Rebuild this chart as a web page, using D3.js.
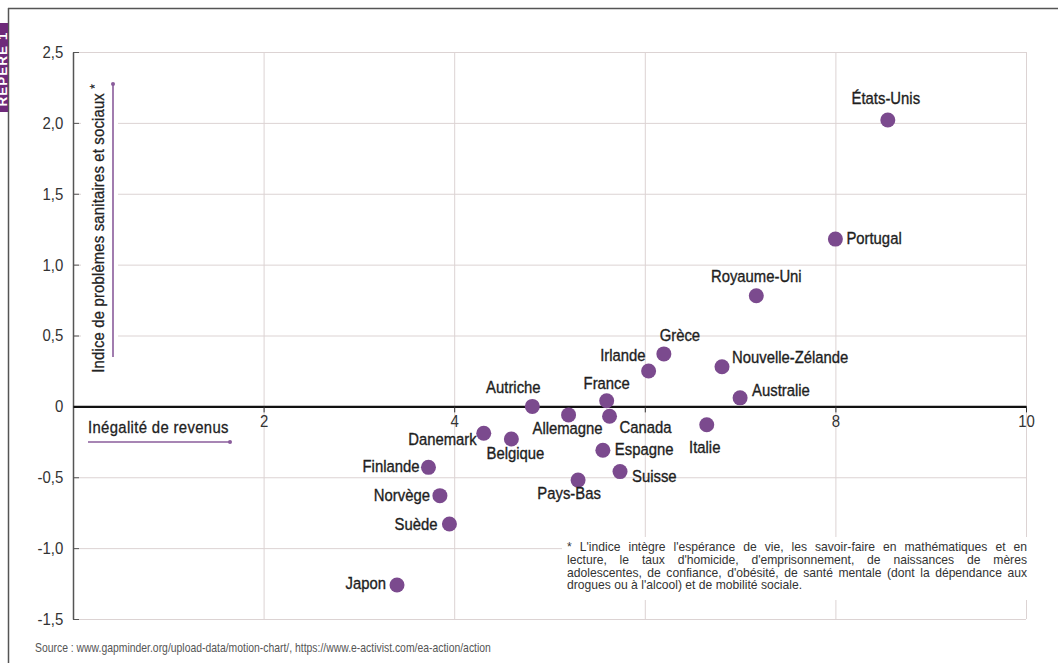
<!DOCTYPE html>
<html lang="fr">
<head>
<meta charset="utf-8">
<script src="https://cdn.jsdelivr.net/npm/d3@7"></script>
<style>
  html, body { margin: 0; padding: 0; background: #fff; }
  svg { display: block; }
  text { font-family: "Liberation Sans", Arial, sans-serif; }
</style>
</head>
<body>
<svg id="chart" width="1058" height="663"></svg>
<script>
// Pays, inégalité de revenus et indice de problèmes sanitaires et sociaux
const countries = ["États-Unis", "Portugal", "Royaume-Uni", "Grèce", "Irlande", "Nouvelle-Zélande",
  "Australie", "France", "Autriche", "Canada", "Allemagne", "Italie", "Danemark", "Belgique",
  "Espagne", "Suisse", "Pays-Bas", "Finlande", "Norvège", "Suède", "Japon"];
const incomeInequality = [8.55, 8.0, 7.17, 6.20, 6.04, 6.81,
  7.0, 5.60, 4.82, 5.63, 5.20, 6.65, 4.31, 4.60,
  5.56, 5.74, 5.30, 3.73, 3.85, 3.95, 3.40];
const healthSocialIndex = [2.02, 1.18, 0.78, 0.37, 0.25, 0.28,
  0.06, 0.04, 0.0, -0.07, -0.06, -0.13, -0.19, -0.23,
  -0.31, -0.46, -0.52, -0.43, -0.63, -0.83, -1.26];

const xTickValues = [2, 4, 6, 8, 10];
const yTickValues = [-1.5, -1.0, -0.5, 0, 0.5, 1.0, 1.5, 2.0, 2.5];

const xTitle = "Inégalité de revenus";
const yTitle = "Indice de problèmes sanitaires et sociaux";
const footnoteLines = [
  "* L'indice intègre l'espérance de vie, les savoir-faire en mathématiques et en",
  "lecture, le taux d'homicide, d'emprisonnement, de naissances de mères",
  "adolescentes, de confiance, d'obésité, de santé mentale (dont la dépendance aux",
  "drogues ou à l'alcool) et de mobilité sociale."
];
const sourceText = "Source : www.gapminder.org/upload-data/motion-chart/, https://www.e-activist.com/ea-action/action";
const tabText = "REPÈRE 1";

// Label placement around each dot: [text-anchor, dx, dy]
const labelPlacement = {
  "États-Unis": ["middle", -2, -16],
  "Portugal": ["start", 11, 5],
  "Royaume-Uni": ["middle", 0, -14],
  "Grèce": ["middle", 16, -13],
  "Irlande": ["end", -3, -10],
  "Nouvelle-Zélande": ["start", 10, -4],
  "Australie": ["start", 12, -2],
  "France": ["middle", 0, -12],
  "Autriche": ["middle", -19, -13],
  "Canada": ["start", 10, 17],
  "Allemagne": ["middle", -1, 19],
  "Italie": ["middle", -2, 28],
  "Danemark": ["end", -7, 12],
  "Belgique": ["middle", 4, 20],
  "Espagne": ["start", 12, 5],
  "Suisse": ["start", 12, 10],
  "Pays-Bas": ["middle", -9, 19],
  "Finlande": ["end", -9, 5],
  "Norvège": ["end", -10, 5],
  "Suède": ["end", -12, 6],
  "Japon": ["end", -11, 4]
};

const purple = "#7b4a8e";
const arrowPurple = "#8a5c9b";
const gridColor = "#dcd3d3";
const NARROW = 0.9;   // horizontal squeeze giving a condensed face

const svg = d3.select("#chart");

const x = d3.scaleLinear().domain([0, 10]).range([73, 1026]);
const y = d3.scaleLinear().domain([-1.5, 2.5]).range([619, 52]);

const frLocale = d3.formatLocale({ decimal: ",", thousands: " ", grouping: [3], currency: ["", " €"], minus: "-" });
const fmt1 = frLocale.format(".1f");
const yFormat = v => v === 0 ? "0" : fmt1(v);

// Outer frame and side tab (the tab runs off the page edge)
svg.append("line").attr("x1", 8).attr("x2", 1058).attr("y1", 8.5).attr("y2", 8.5)
  .attr("stroke", "#555").attr("stroke-width", 1.5);
svg.append("line").attr("x1", 8.5).attr("x2", 8.5).attr("y1", 8).attr("y2", 663)
  .attr("stroke", "#555").attr("stroke-width", 1.5);
svg.append("clipPath").attr("id", "tabClip")
  .append("rect").attr("x", 0).attr("y", 23).attr("width", 8).attr("height", 89);
const tab = svg.append("g").attr("clip-path", "url(#tabClip)");
tab.append("rect").attr("x", 0).attr("y", 23).attr("width", 8).attr("height", 89).attr("fill", "#6e2a7a");
tab.append("text")
  .attr("transform", "translate(7,69) rotate(-90)")
  .attr("text-anchor", "middle")
  .attr("fill", "#fff").attr("font-weight", "bold").attr("font-size", 13.5)
  .attr("letter-spacing", 1)
  .text(tabText);

// Gridlines
svg.append("g")
  .attr("transform", `translate(0,${y(-1.5)})`)
  .call(d3.axisBottom(x).tickValues(xTickValues).tickSize(-(y(-1.5) - y(2.5))).tickFormat(""))
  .call(g => g.select(".domain").remove())
  .call(g => g.selectAll("line").attr("stroke", gridColor));
svg.append("g")
  .attr("transform", `translate(${x(0)},0)`)
  .call(d3.axisLeft(y).tickValues(yTickValues).tickSize(-(x(10) - x(0))).tickFormat(""))
  .call(g => g.select(".domain").remove())
  .call(g => g.selectAll("line").attr("stroke", gridColor));

// Y axis with inward ticks
svg.append("g")
  .attr("transform", `translate(${x(0)},0)`)
  .call(d3.axisLeft(y).tickValues(yTickValues).tickSizeInner(-6).tickSizeOuter(0).tickPadding(11).tickFormat(yFormat))
  .call(g => g.select(".domain").attr("stroke", "#555").attr("stroke-width", 1.5))
  .call(g => g.selectAll(".tick line").attr("stroke", "#555"))
  .call(g => g.selectAll("text").attr("font-size", 17).attr("fill", "#333")
    .attr("transform", "scale(0.88,1)"));

// Y title with its arrow, on a white band over the gridlines
svg.append("rect").attr("x", 81).attr("y", 78).attr("width", 37).attr("height", 290).attr("fill", "#fff");
const yT = svg.append("text")
  .attr("transform", `translate(104,84) rotate(-90) scale(${NARROW},1)`)
  .attr("text-anchor", "end")
  .attr("font-size", 16.5).attr("fill", "#222").attr("letter-spacing", 0.2)
  .attr("stroke", "#222").attr("stroke-width", 0.3);
yT.append("tspan").text(yTitle + " ");
yT.append("tspan").attr("dy", -5).attr("font-size", 13).text("*");
svg.append("line").attr("x1", 113).attr("x2", 113).attr("y1", 357).attr("y2", 84)
  .attr("stroke", arrowPurple).attr("stroke-width", 1.6);
svg.append("circle").attr("cx", 113).attr("cy", 84).attr("r", 2).attr("fill", arrowPurple);

// X title with its arrow
svg.append("text").attr("transform", `translate(88,433) scale(${NARROW},1)`)
  .attr("font-size", 16.5).attr("fill", "#222").attr("letter-spacing", 0.4)
  .attr("stroke", "#222").attr("stroke-width", 0.3)
  .text(xTitle);
svg.append("line").attr("x1", 88).attr("x2", 230).attr("y1", 442).attr("y2", 442)
  .attr("stroke", arrowPurple).attr("stroke-width", 1.6);
svg.append("circle").attr("cx", 230).attr("cy", 442).attr("r", 2).attr("fill", arrowPurple);

// X axis on the zero line (the "6" label sits under the Canada label)
svg.append("g")
  .attr("transform", `translate(0,${y(0)})`)
  .call(d3.axisBottom(x).tickValues(xTickValues).tickSizeInner(6).tickSizeOuter(0).tickPadding(3)
    .tickFormat(d => d === 6 ? "" : d))
  .call(g => g.select(".domain").attr("stroke", "#111").attr("stroke-width", 2.2))
  .call(g => g.selectAll(".tick line").attr("stroke", "#333"))
  .call(g => g.selectAll("text").attr("font-size", 17).attr("fill", "#333")
    .attr("transform", "scale(0.88,1)"));

// Points and labels
const rows = countries.map((c, i) => ({ country: c, xv: incomeInequality[i], yv: healthSocialIndex[i] }));
svg.append("g").selectAll("circle").data(rows).join("circle")
  .attr("cx", d => x(d.xv)).attr("cy", d => y(d.yv)).attr("r", 7.5)
  .attr("fill", purple);
svg.append("g").selectAll("text").data(rows).join("text")
  .attr("transform", d => {
    const p = labelPlacement[d.country];
    return `translate(${x(d.xv) + p[1]},${y(d.yv) + p[2]}) scale(${NARROW},1)`;
  })
  .attr("text-anchor", d => labelPlacement[d.country][0])
  .attr("font-size", 16.5).attr("fill", "#1e1e1e")
  .attr("stroke", "#1e1e1e").attr("stroke-width", 0.35)
  .text(d => d.country);

// Footnote box, justified line by line
svg.append("rect").attr("x", 562).attr("y", 537).attr("width", 470).attr("height", 63).attr("fill", "#fff");
const FN_SQUEEZE = 0.92;
const fnLeft = 567, fnRight = 1027, fnTop = 551, fnLead = 12.8;
const fnWidth = (fnRight - fnLeft) / FN_SQUEEZE;
const fn = svg.append("g")
  .attr("transform", `translate(${fnLeft},0) scale(${FN_SQUEEZE},1)`)
  .attr("font-size", 13.2).attr("fill", "#333");
const probe = fn.append("text");
const measure = s => { probe.text(s); return probe.node().getComputedTextLength(); };
const spaceW = measure("a a") - measure("aa");
footnoteLines.forEach((line, li) => {
  const words = line.split(" ");
  const widths = words.map(measure);
  const last = li === footnoteLines.length - 1;
  const gap = last ? spaceW : (fnWidth - d3.sum(widths)) / (words.length - 1);
  const xs = [];
  let cx = 0;
  widths.forEach(w => { xs.push(cx); cx += w + gap; });
  const t = fn.append("text").attr("y", fnTop + li * fnLead);
  words.forEach((w, i) => t.append("tspan").attr("x", xs[i]).text(w));
});
probe.remove();

// Source line
svg.append("text").attr("transform", "translate(35,652) scale(0.8,1)")
  .attr("font-size", 13).attr("fill", "#555")
  .text(sourceText);
</script>
</body>
</html>
